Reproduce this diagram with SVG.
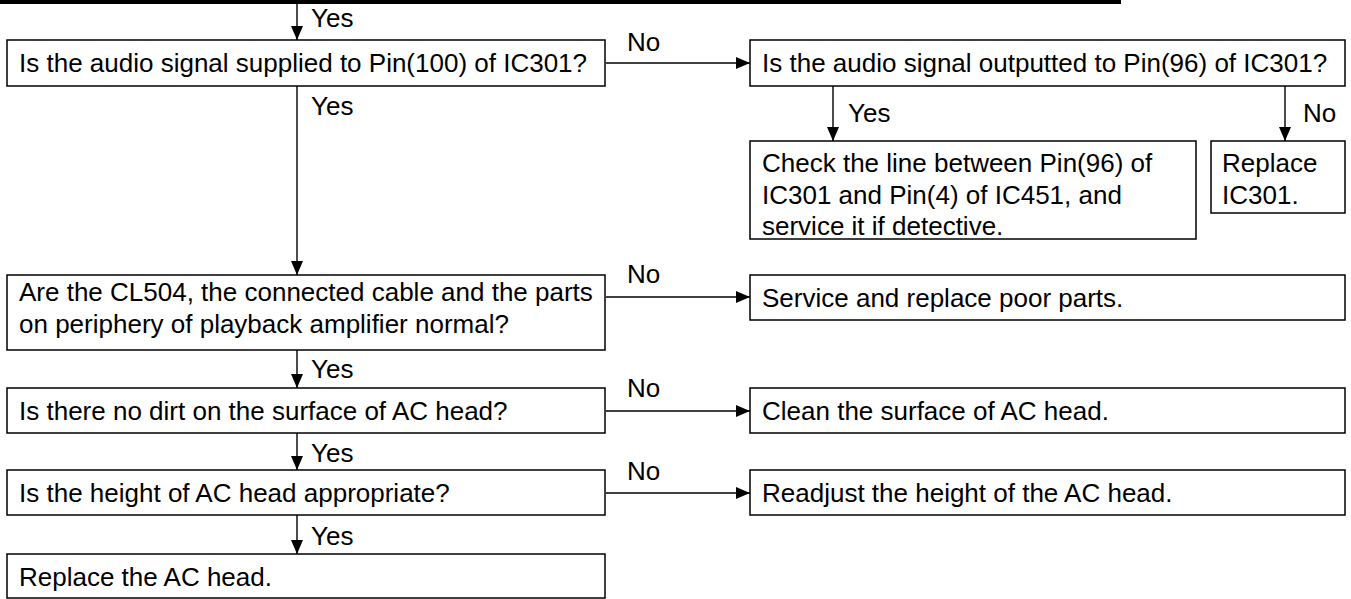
<svg xmlns="http://www.w3.org/2000/svg" width="1351" height="599" viewBox="0 0 1351 599">
<defs>
<marker id="ah" viewBox="0 0 14 12" refX="14" refY="6" markerWidth="14" markerHeight="12" markerUnits="userSpaceOnUse" orient="auto">
<path d="M0,0 L14,6 L0,12 Z" fill="#000"/>
</marker>
<style>
.box{fill:#fff;stroke:#000;stroke-width:1.5}
.t{font-family:"Liberation Sans",Arial,sans-serif;font-size:26px;fill:#000}
.c{stroke:#000;stroke-width:1.4;fill:none}
.a{marker-end:url(#ah)}
</style>
</defs>
<rect x="0" y="0" width="1121" height="4" fill="#000"/>
<g id="connectors">
<line class="c a" x1="297" y1="4" x2="297" y2="40"/>
<line class="c a" x1="606" y1="63" x2="750" y2="63"/>
<line class="c a" x1="297" y1="86" x2="297" y2="275"/>
<line class="c a" x1="833" y1="86" x2="833" y2="141"/>
<line class="c a" x1="1285" y1="86" x2="1285" y2="141"/>
<line class="c a" x1="606" y1="297" x2="750" y2="297"/>
<line class="c a" x1="297" y1="350" x2="297" y2="388"/>
<line class="c a" x1="606" y1="411" x2="750" y2="411"/>
<line class="c a" x1="297" y1="433" x2="297" y2="470"/>
<line class="c a" x1="606" y1="493" x2="750" y2="493"/>
<line class="c a" x1="297" y1="515" x2="297" y2="554"/>
<text class="t" x="311" y="27">Yes</text>
<text class="t" x="627" y="51">No</text>
<text class="t" x="311" y="115">Yes</text>
<text class="t" x="848" y="122">Yes</text>
<text class="t" x="1303" y="122">No</text>
<text class="t" x="627" y="283">No</text>
<text class="t" x="311" y="378">Yes</text>
<text class="t" x="627" y="397">No</text>
<text class="t" x="311" y="462">Yes</text>
<text class="t" x="627" y="480">No</text>
<text class="t" x="311" y="545">Yes</text>
</g>
<g id="q1">
<rect class="box" x="7" y="40" width="598" height="46"/>
<text class="t" x="19" y="72">Is the audio signal supplied to Pin(100) of IC301?</text>
</g>
<g id="q2">
<rect class="box" x="750" y="40" width="595" height="46"/>
<text class="t" x="762" y="72">Is the audio signal outputted to Pin(96) of IC301?</text>
</g>
<g id="check">
<rect class="box" x="750" y="141" width="446" height="98"/>
<text class="t" x="762" y="172">Check the line between Pin(96) of</text>
<text class="t" x="762" y="204">IC301 and Pin(4) of IC451, and</text>
<text class="t" x="762" y="235">service it if detective.</text>
</g>
<g id="replaceic">
<rect class="box" x="1211" y="141" width="134" height="72"/>
<text class="t" x="1222" y="172">Replace</text>
<text class="t" x="1222" y="204">IC301.</text>
</g>
<g id="q3">
<rect class="box" x="7" y="275" width="598" height="75"/>
<text class="t" x="19" y="301">Are the CL504, the connected cable and the parts</text>
<text class="t" x="19" y="333">on periphery of playback amplifier normal?</text>
</g>
<g id="service">
<rect class="box" x="750" y="275" width="595" height="45"/>
<text class="t" x="762" y="307">Service and replace poor parts.</text>
</g>
<g id="q4">
<rect class="box" x="7" y="388" width="598" height="45"/>
<text class="t" x="19" y="420">Is there no dirt on the surface of AC head?</text>
</g>
<g id="clean">
<rect class="box" x="750" y="388" width="595" height="45"/>
<text class="t" x="762" y="420">Clean the surface of AC head.</text>
</g>
<g id="q5">
<rect class="box" x="7" y="470" width="598" height="45"/>
<text class="t" x="19" y="502">Is the height of AC head appropriate?</text>
</g>
<g id="readjust">
<rect class="box" x="750" y="470" width="595" height="45"/>
<text class="t" x="762" y="502">Readjust the height of the AC head.</text>
</g>
<g id="replacehead">
<rect class="box" x="7" y="554" width="598" height="44"/>
<text class="t" x="19" y="586">Replace the AC head.</text>
</g>
</svg>
